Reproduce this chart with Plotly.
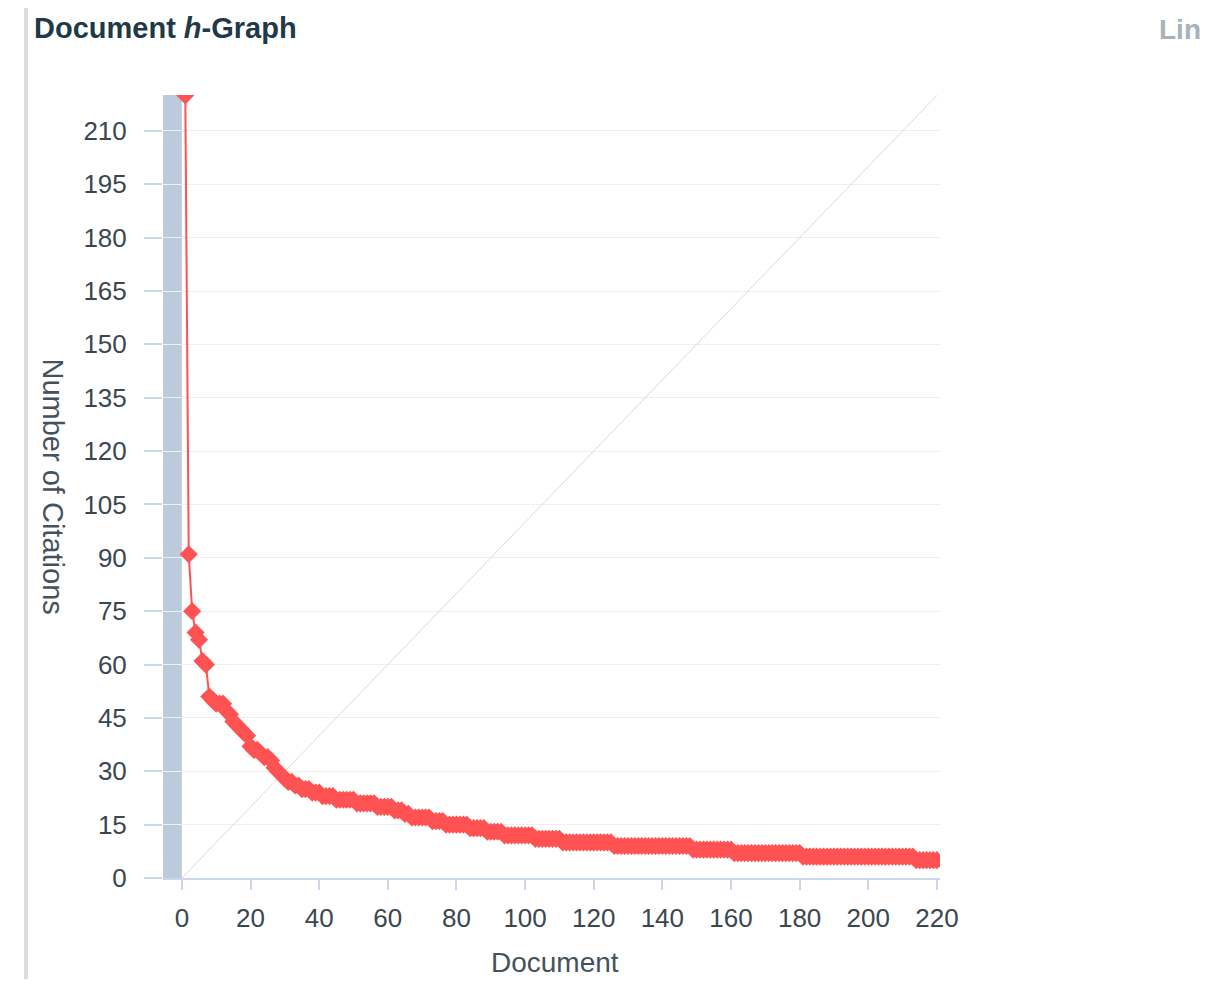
import plotly.graph_objects as go

# Documents ranked by citations (h-graph)
documents = list(range(1, 221))
citations = [
    220, 91, 75, 69, 67, 61, 60, 51, 50, 49,
    49, 49, 47, 46, 44, 43, 42, 41, 40, 37,
    36, 36, 35, 34, 34, 33, 31, 30, 29, 28,
    27, 27, 26, 26, 25, 25, 25, 24, 24, 24,
    23, 23, 23, 23, 22, 22, 22, 22, 22, 22,
    21, 21, 21, 21, 21, 21, 20, 20, 20, 20,
    20, 19, 19, 19, 18, 18, 17, 17, 17, 17,
    17, 17, 16, 16, 16, 16, 15, 15, 15, 15,
    15, 15, 15, 14, 14, 14, 14, 14, 13, 13,
    13, 13, 13, 12, 12, 12, 12, 12, 12, 12,
    12, 12, 11, 11, 11, 11, 11, 11, 11, 11,
    10, 10, 10, 10, 10, 10, 10, 10, 10, 10,
    10, 10, 10, 10, 10, 9, 9, 9, 9, 9,
    9, 9, 9, 9, 9, 9, 9, 9, 9, 9,
    9, 9, 9, 9, 9, 9, 9, 9, 8, 8,
    8, 8, 8, 8, 8, 8, 8, 8, 8, 8,
    7, 7, 7, 7, 7, 7, 7, 7, 7, 7,
    7, 7, 7, 7, 7, 7, 7, 7, 7, 7,
    6, 6, 6, 6, 6, 6, 6, 6, 6, 6,
    6, 6, 6, 6, 6, 6, 6, 6, 6, 6,
    6, 6, 6, 6, 6, 6, 6, 6, 6, 6,
    6, 6, 6, 5, 5, 5, 5, 5, 5, 5,
]
diag_x = [0, 220]
diag_y = [0, 220]
band_x = [-5.5, 0]

x_ticks = list(range(0, 221, 20))
y_ticks = list(range(0, 211, 15))

W, H = 1193, 971
ML, MR, MT, MB = 155, 261, 87, 101
PW = W - ML - MR
PH = H - MT - MB

def px_x(p):
    return (p - ML) / PW

def px_y(p):
    return (H - MB - p) / PH

FONT = "Liberation Sans, Arial, sans-serif"
tick_font = dict(family=FONT, size=26, color="#3b4750")
label_color = "#45525c"

fig = go.Figure()

fig.add_trace(go.Scatter(
    x=diag_x, y=diag_y, mode="lines",
    line=dict(color="#dadada", width=1),
    hoverinfo="skip", showlegend=False,
))

fig.add_trace(go.Scatter(
    x=documents, y=citations, mode="lines+markers",
    line=dict(color="#ff5353", width=2),
    marker=dict(symbol="diamond", size=14, color="#ff5353"),
    showlegend=False, cliponaxis=True,
))

# shaded band left of zero
fig.add_shape(type="rect", xref="x", yref="paper",
              x0=band_x[0], x1=band_x[1], y0=0, y1=1,
              fillcolor="#bccbdc", line_width=0, layer="below")

# left grey border bar
fig.add_shape(type="rect", xref="paper", yref="paper",
              x0=px_x(16), x1=px_x(20), y0=px_y(H + 20), y1=px_y(-20),
              fillcolor="#dcdcdc", line_width=0, layer="above")

fig.add_annotation(xref="paper", yref="paper", x=px_x(24), y=px_y(20),
                   xanchor="left", yanchor="middle", showarrow=False,
                   text="<b>Document <i>h</i>-Graph</b>",
                   font=dict(family=FONT, size=29, color="#1f3a46"))

fig.add_annotation(xref="paper", yref="paper", x=px_x(1149), y=px_y(22),
                   xanchor="left", yanchor="middle", showarrow=False,
                   text="<b>Lin</b>",
                   font=dict(family=FONT, size=28, color="#a9b2b7"))

fig.add_annotation(xref="paper", yref="paper", x=px_x(45), y=0.5,
                   xanchor="center", yanchor="middle", showarrow=False,
                   text="Number of Citations", textangle=90,
                   font=dict(family=FONT, size=29, color=label_color))

fig.add_annotation(xref="paper", yref="paper", x=px_x(547), y=px_y(954),
                   xanchor="center", yanchor="middle", showarrow=False,
                   text="Document", borderpad=0,
                   font=dict(family=FONT, size=28, color=label_color))

fig.update_layout(
    width=W, height=H,
    margin=dict(l=ML, r=MR, t=MT, b=MB),
    paper_bgcolor="white", plot_bgcolor="white",
    xaxis=dict(range=[-5.5, 220.9], tickvals=x_ticks, ticks="outside", ticklen=10,
               tickcolor="#ccd6eb", tickwidth=1.5, showline=True, linecolor="#ccd6eb",
               linewidth=1.5, showgrid=False, zeroline=False, tickfont=tick_font,
               ticklabelstandoff=6),
    yaxis=dict(range=[0, 220.1], tickvals=y_ticks, ticks="outside", ticklen=18,
               tickcolor="#ccd6eb", tickwidth=1.5, showline=False,
               showgrid=True, gridcolor="#efefef", gridwidth=1, zeroline=False,
               tickfont=tick_font, ticklabelstandoff=12),
)

fig.write_html("out.html")
